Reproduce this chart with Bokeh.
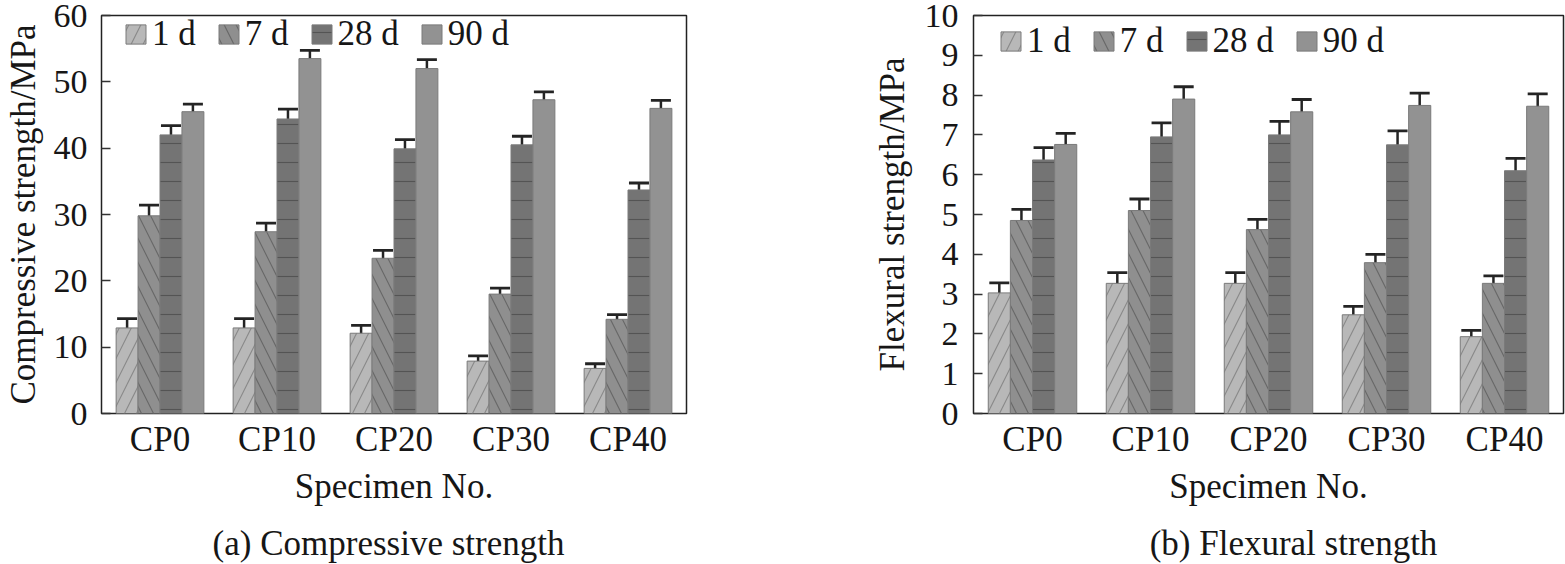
from bokeh.plotting import figure
from bokeh.models import (ColumnDataSource, FactorRange, Range1d, Whisker, Legend,
                          LegendItem, FixedTicker, TeeHead)
from bokeh.core.properties import value
from bokeh.transform import dodge
from bokeh.layouts import row, column
from bokeh.embed import file_html
from bokeh.resources import INLINE

# ---------------- data ----------------
specimens = ["CP0", "CP10", "CP20", "CP30", "CP40"]
ages = ["1 d", "7 d", "28 d", "90 d"]

comp_1d = [12.9, 12.9, 12.1, 7.9, 6.8]
comp_7d = [29.8, 27.4, 23.4, 18.0, 14.2]
comp_28d = [42.0, 44.4, 39.9, 40.5, 33.7]
comp_90d = [45.5, 53.5, 52.0, 47.3, 46.0]
comp_err_1d = [1.4, 1.4, 1.2, 0.8, 0.7]
comp_err_7d = [1.6, 1.3, 1.2, 0.9, 0.7]
comp_err_28d = [1.4, 1.5, 1.4, 1.3, 1.05]
comp_err_90d = [1.15, 1.25, 1.35, 1.2, 1.2]

flex_1d = [3.03, 3.27, 3.27, 2.48, 1.93]
flex_7d = [4.85, 5.10, 4.62, 3.79, 3.27]
flex_28d = [6.37, 6.95, 7.00, 6.75, 6.10]
flex_90d = [6.76, 7.90, 7.58, 7.74, 7.72]
flex_err_1d = [0.25, 0.27, 0.27, 0.21, 0.16]
flex_err_7d = [0.28, 0.29, 0.26, 0.21, 0.19]
flex_err_28d = [0.31, 0.35, 0.34, 0.35, 0.31]
flex_err_90d = [0.28, 0.31, 0.31, 0.31, 0.31]

comp_ticks = [0, 10, 20, 30, 40, 50, 60]
flex_ticks = [0, 1, 2, 3, 4, 5, 6, 7, 8, 9, 10]
captions = ["(a) Compressive strength", "(b) Flexural strength"]

# ---------------- styles / layout ----------------
FONT = "Liberation Serif"
TXT = "#161616"
fills = ["#b8b8b8", "#8f8f8f", "#747474", "#929292"]
hatches = ["/", "\\", "-", " "]
hatch_colors = ["#8a8a8a", "#686868", "#545454", "#929292"]
hatch_scales = [24, 24, 19, 12]
offsets = [-0.28125, -0.09375, 0.09375, 0.28125]
BAR_W = 0.1875
ERR_C = "#242424"

MAIN_H = 508
CAP_H = 56
TOP = 15
W1, BL1, BR1 = 863, 96, 177
W2, BL2, BR2 = 702, 110, 2


def make_chart(series, errors, ymax, ticks, ylabel, width,
               border_left, border_right, tick_standoff, label_standoff,
               legend_loc):
    p = figure(x_range=FactorRange(factors=specimens, range_padding=0),
               y_range=Range1d(0, ymax), width=width, height=MAIN_H,
               output_backend="svg", toolbar_location=None,
               min_border_left=border_left, min_border_right=border_right,
               min_border_top=TOP, min_border_bottom=95)
    p.background_fill_color = "white"
    p.border_fill_color = "white"
    p.outline_line_color = "#222222"
    p.outline_line_width = 1.5
    p.xgrid.grid_line_color = None
    p.ygrid.grid_line_color = None

    items = []
    for i, age in enumerate(ages):
        vals = series[i]
        errs = errors[i]
        src = ColumnDataSource(dict(
            x=specimens, top=vals,
            upper=[v + e for v, e in zip(vals, errs)],
            lower=[v - e for v, e in zip(vals, errs)]))
        r = p.vbar(x=dodge("x", offsets[i], range=p.x_range), top="top",
                   width=BAR_W, source=src, fill_color=fills[i],
                   line_color="#7a7a7a", line_width=1,
                   hatch_pattern=hatches[i], hatch_color=hatch_colors[i],
                   hatch_scale=hatch_scales[i], hatch_weight=1.2)
        items.append(LegendItem(label=age, renderers=[r]))
        w = Whisker(base=dodge("x", offsets[i], range=p.x_range),
                    upper="upper", lower="lower", source=src,
                    line_color=ERR_C, line_width=2.5,
                    upper_head=TeeHead(size=20, line_width=2.8, line_color=ERR_C),
                    lower_head=TeeHead(size=20, line_width=2.8, line_color=ERR_C))
        p.add_layout(w)

    legend = Legend(items=items, orientation="horizontal", location=legend_loc,
                    padding=0, margin=0, spacing=20, glyph_width=25,
                    glyph_height=24, label_standoff=4,
                    label_text_font=FONT, label_text_font_size="35px",
                    label_text_color=TXT, background_fill_alpha=0,
                    border_line_color=None)
    p.add_layout(legend)

    xa = p.xaxis[0]
    xa.major_tick_line_color = None
    xa.minor_tick_line_color = None
    xa.axis_line_color = None
    xa.major_label_standoff = 0
    xa.major_label_text_font = FONT
    xa.major_label_text_font_size = "35px"
    xa.major_label_text_color = TXT
    xa.axis_label = "Specimen No."
    xa.axis_label_standoff = 5
    xa.axis_label_text_font = FONT
    xa.axis_label_text_font_size = "35px"
    xa.axis_label_text_font_style = "normal"
    xa.axis_label_text_color = TXT

    ya = p.yaxis[0]
    ya.ticker = FixedTicker(ticks=ticks)
    ya.major_tick_in = 9
    ya.major_tick_out = 0
    ya.major_tick_line_color = "#333333"
    ya.major_tick_line_width = 1.5
    ya.minor_tick_line_color = None
    ya.axis_line_color = None
    ya.major_label_standoff = tick_standoff
    ya.major_label_text_font = FONT
    ya.major_label_text_font_size = "34px"
    ya.major_label_text_color = TXT
    ya.axis_label = ylabel
    ya.axis_label_standoff = label_standoff
    ya.axis_label_text_font = FONT
    ya.axis_label_text_font_size = "35px"
    ya.axis_label_text_font_style = "normal"
    ya.axis_label_text_color = TXT
    return p


p1 = make_chart([comp_1d, comp_7d, comp_28d, comp_90d],
                [comp_err_1d, comp_err_7d, comp_err_28d, comp_err_90d],
                60, comp_ticks, "Compressive strength/MPa",
                W1, BL1, BR1, 14, 8, (22, 359))
p2 = make_chart([flex_1d, flex_7d, flex_28d, flex_90d],
                [flex_err_1d, flex_err_7d, flex_err_28d, flex_err_90d],
                10, flex_ticks, "Flexural strength/MPa",
                W2, BL2, BR2, 15, 10, (25, 352))

# caption strip below the two charts (sub-figure titles)
total_w = W1 + W2
frame1_mid = BL1 + (W1 - BL1 - BR1) / 2
frame2_mid = W1 + BL2 + (W2 - BL2 - BR2) / 2
cap = figure(width=total_w, height=CAP_H, x_range=Range1d(0, total_w),
             y_range=Range1d(0, CAP_H), output_backend="svg",
             toolbar_location=None, x_axis_location=None,
             y_axis_location=None, min_border=0)
cap.outline_line_color = None
cap.xgrid.grid_line_color = None
cap.ygrid.grid_line_color = None
cap_src = ColumnDataSource(dict(x=[frame1_mid - 3, frame2_mid + 25],
                                y=[21, 21], text=captions))
cap.text(x="x", y="y", text="text", source=cap_src, text_align="center",
         text_baseline="alphabetic", text_font=value(FONT),
         text_font_size="35px", text_color=TXT)

layout = column(row(p1, p2), cap)
open("out.html", "w").write(file_html(layout, INLINE))
